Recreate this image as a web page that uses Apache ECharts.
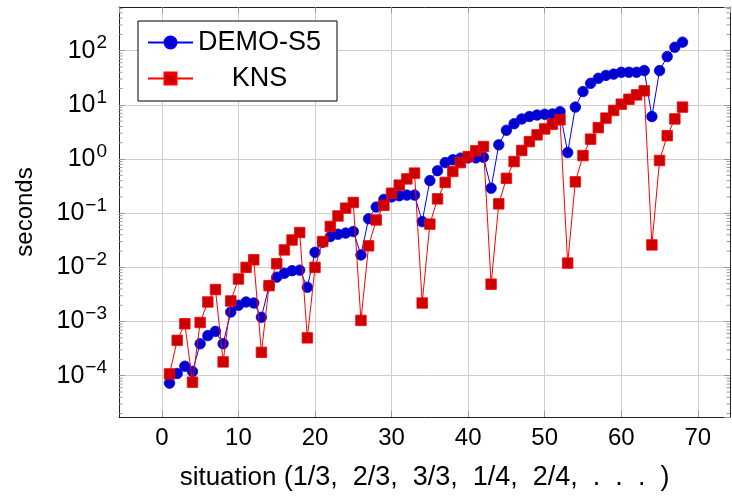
<!DOCTYPE html>
<html>
<head>
<meta charset="utf-8">
<script src="https://cdn.jsdelivr.net/npm/echarts@6/dist/echarts.min.js"></script>
<style>
html,body{margin:0;padding:0;background:#fff;}
#c{width:732px;height:497px;}
</style>
</head>
<body>
<div id="c"></div>
<script>
var situations = [];
for (var i = 1; i <= 68; i++) situations.push(i);

var demoS5 = [7.3e-5, 1.1e-4, 1.5e-4, 1.2e-4, 3.9e-4, 5.5e-4, 6.6e-4, 3.9e-4, 1.5e-3, 2.0e-3,
  2.3e-3, 2.2e-3, 1.2e-3, 4.6e-3, 6.6e-3, 7.8e-3, 8.7e-3, 8.9e-3, 4.3e-3, 1.9e-2,
  2.9e-2, 3.7e-2, 4.1e-2, 4.3e-2, 4.6e-2, 1.7e-2, 7.9e-2, 0.13, 0.18, 0.20,
  0.21, 0.216, 0.216, 0.070, 0.40, 0.61, 0.86, 0.97, 1.04, 1.05,
  1.05, 1.08, 0.29, 1.83, 3.4, 4.5, 5.5, 6.1, 6.5, 6.7,
  6.8, 7.5, 1.32, 9.1, 17.6, 25, 31, 35, 37, 40,
  40, 40, 43, 6.1, 43, 78, 116, 144];

var kns = [1.08e-4, 4.5e-4, 9.1e-4, 7.6e-5, 9.6e-4, 2.3e-3, 3.9e-3, 1.8e-4, 2.4e-3, 6.1e-3,
  1.0e-2, 1.38e-2, 2.7e-4, 4.6e-3, 1.17e-2, 2.1e-2, 3.2e-2, 4.4e-2, 5.0e-4, 1.0e-2,
  3.0e-2, 5.7e-2, 8.9e-2, 0.124, 0.158, 1.05e-3, 2.5e-2, 7.5e-2, 0.14, 0.234,
  0.33, 0.43, 0.55, 2.2e-3, 0.063, 0.184, 0.37, 0.59, 0.86, 1.11,
  1.42, 1.7, 4.9e-3, 0.149, 0.44, 0.90, 1.44, 2.1, 2.8, 3.6,
  4.4, 5.3, 1.2e-2, 0.38, 1.16, 2.33, 3.8, 5.7, 7.9, 10.3,
  12.7, 15.3, 18.2, 2.6e-2, 0.94, 2.7, 5.5, 9.1];

var seriesNames = ['DEMO-S5', 'KNS'];
var xTitleWord = 'situation';
var xTitleMath = '(1/3,  2/3,  3/3,  1/4,  2/4,  .  .  .  )';
var yTitle = 'seconds';

var X_MIN = -5.6, X_MAX = 74.2;
var Y_MIN = Math.pow(10, -4.762), Y_MAX = Math.pow(10, 2.807);

// minor tick values for the log axis (2..9 x 10^n)
var minorTicks = [];
for (var n = -5; n <= 2; n++) {
  for (var k = 2; k <= 9; k++) {
    var v = k * Math.pow(10, n);
    if (v > Y_MIN && v < Y_MAX) minorTicks.push([0, v]);
  }
}

function pairs(xs, ys) { return xs.map(function (x, i) { return [x, ys[i]]; }); }

var FONT = '"Liberation Sans", Arial, sans-serif';
var chart = echarts.init(document.getElementById('c'), null, {renderer: 'canvas'});

function supLabel(v) {
  var p = Math.round(Math.log10(v));
  var s = p < 0 ? '\u2212' + (-p) : String(p);
  return '{b|10}{e|' + s + '}';
}

var option = {
  animation: false,
  backgroundColor: '#fff',
  grid: {left: 119, top: 7, width: 611, height: 410, containLabel: false},
  legend: {
    data: seriesNames,
    orient: 'vertical',
    left: 138, top: 21,
    backgroundColor: '#fff',
    borderColor: '#000', borderWidth: 1,
    padding: [8, 16, 9, 9],
    itemGap: 9,
    itemWidth: 45, itemHeight: 15,
    formatter: function (name) { return '{c|' + name + '}'; },
    textStyle: {
      fontFamily: FONT, fontSize: 27, color: '#000',
      rich: {c: {width: 123, align: 'center', fontSize: 27, fontFamily: FONT}}
    }
  },
  xAxis: [{
    type: 'value', min: X_MIN, max: X_MAX, splitNumber: 8, minInterval: 10, maxInterval: 10,
    position: 'bottom',
    name: '{a|' + xTitleWord + '} {m|' + xTitleMath + '}', nameLocation: 'middle', nameGap: 47,
    nameTextStyle: {
      fontFamily: FONT, fontSize: 26, color: '#000',
      rich: {
        a: {fontFamily: FONT, fontSize: 26, color: '#000'},
        m: {fontFamily: FONT, fontSize: 27, color: '#000'}
      }
    },
    axisLine: {show: true, onZero: false, lineStyle: {color: '#222', width: 1}},
    axisTick: {show: true, inside: true, length: 6, lineStyle: {color: '#999'}},
    axisLabel: {fontFamily: FONT, fontSize: 24, color: '#000', margin: 9, showMinLabel: false, showMaxLabel: false},
    splitLine: {show: true, lineStyle: {color: '#cfcfcf', width: 1}}
  }, {
    type: 'value', min: X_MIN, max: X_MAX, splitNumber: 8, minInterval: 10, maxInterval: 10,
    position: 'top',
    axisLine: {show: true, onZero: false, lineStyle: {color: '#222', width: 1}},
    axisTick: {show: true, inside: true, length: 6, lineStyle: {color: '#999'}},
    axisLabel: {show: false},
    splitLine: {show: false}
  }],
  yAxis: [{
    type: 'log', logBase: 10, min: Y_MIN, max: Y_MAX, splitNumber: 8,
    position: 'left',
    name: yTitle, nameLocation: 'middle', nameGap: 82, nameRotate: 90,
    nameTextStyle: {fontFamily: FONT, fontSize: 24, color: '#000'},
    axisLine: {show: true, onZero: false, lineStyle: {color: '#222', width: 1}},
    axisTick: {show: true, inside: true, length: 6, lineStyle: {color: '#999'}},
    axisLabel: {
      margin: 12, showMinLabel: false, showMaxLabel: false,
      formatter: supLabel,
      rich: {
        b: {fontFamily: FONT, fontSize: 25, color: '#000'},
        e: {fontFamily: FONT, fontSize: 19, color: '#000', padding: [0, 0, 15, 1]}
      }
    },
    splitLine: {show: true, lineStyle: {color: '#cfcfcf', width: 1}}
  }, {
    type: 'log', logBase: 10, min: Y_MIN, max: Y_MAX, splitNumber: 8,
    position: 'right',
    axisLine: {show: true, onZero: false, lineStyle: {color: '#222', width: 1}},
    axisTick: {show: true, inside: true, length: 6, lineStyle: {color: '#999'}},
    axisLabel: {show: false},
    splitLine: {show: false}
  }],
  series: [{
    type: 'custom',
    name: 'minor',
    xAxisIndex: 0, yAxisIndex: 0,
    silent: true,
    z: 1,
    data: minorTicks,
    renderItem: function (params, api) {
      var cs = params.coordSys;
      var y = api.coord([0, api.value(1)])[1];
      var st = {stroke: '#999', lineWidth: 1};
      return {type: 'group', children: [
        {type: 'line', shape: {x1: cs.x, y1: y, x2: cs.x + 3.5, y2: y}, style: st},
        {type: 'line', shape: {x1: cs.x + cs.width - 3.5, y1: y, x2: cs.x + cs.width, y2: y}, style: st}
      ]};
    }
  }, {
    name: seriesNames[0],
    type: 'line',
    data: pairs(situations, demoS5),
    symbol: 'circle', symbolSize: 10.5,
    lineStyle: {color: '#0000ff', width: 1},
    itemStyle: {color: '#0000cc', borderColor: '#0000ff', borderWidth: 0.8},
    z: 3
  }, {
    name: seriesNames[1],
    type: 'line',
    data: pairs(situations, kns),
    symbol: 'rect', symbolSize: 10.5,
    lineStyle: {color: '#ff0000', width: 1},
    itemStyle: {color: '#cc0000', borderColor: '#ff0000', borderWidth: 0.8},
    z: 4
  }]
};
chart.setOption(option);
</script>
</body>
</html>
